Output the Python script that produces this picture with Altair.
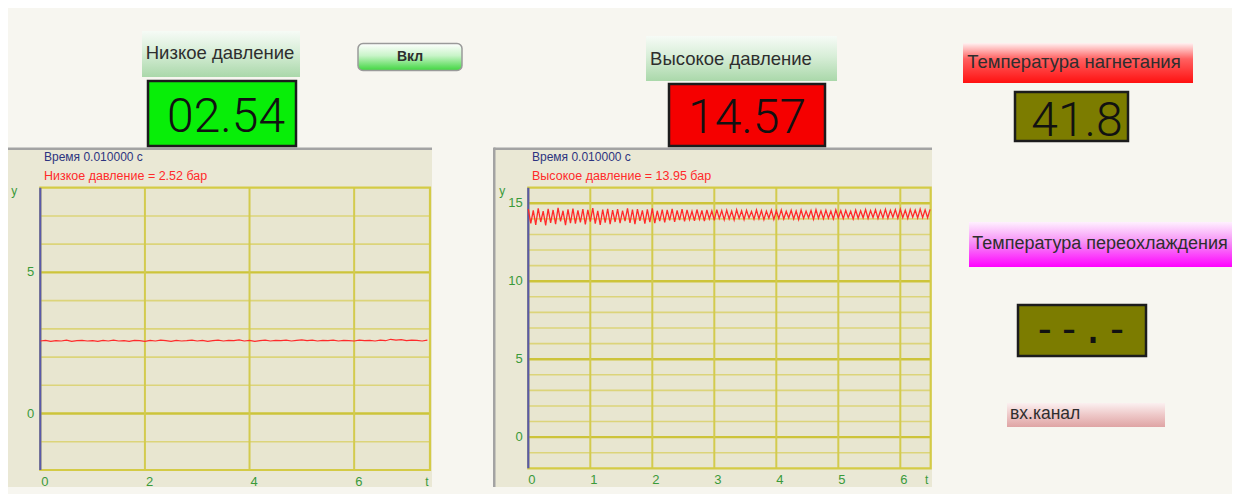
import altair as alt
import pandas as pd

# ---------------- data ----------------
TIME_TEXT = "Время 0.010000 с"
LP_NAME = "Низкое давление"
HP_NAME = "Высокое давление"
TD_NAME = "Температура нагнетания"
TS_NAME = "Температура переохлаждения"
CH_NAME = "вх.канал"
BUTTON_TEXT = "Вкл"
LP_READOUT = "Низкое давление = 2.52 бар"
HP_READOUT = "Высокое давление = 13.95 бар"
LCD_LP = "02.54"
LCD_HP = "14.57"
LCD_TD = "41.8"
LCD_TS = "--.-"
X_TITLE = "t"
Y_TITLE = "y"

LP_T_STEP = 0.1
LP_VALUES = [
    2.57, 2.59, 2.56, 2.58, 2.57, 2.60, 2.56, 2.58, 2.59, 2.57,
    2.58, 2.56, 2.59, 2.57, 2.60, 2.57, 2.58, 2.56, 2.59, 2.58,
    2.56, 2.59, 2.57, 2.60, 2.58, 2.56, 2.59, 2.57, 2.58, 2.60,
    2.57, 2.59, 2.56, 2.58, 2.60, 2.57, 2.59, 2.58, 2.61, 2.57,
    2.59, 2.56, 2.58, 2.60, 2.57, 2.59, 2.58, 2.60, 2.57, 2.59,
    2.61, 2.58, 2.60, 2.57, 2.59, 2.58, 2.60, 2.57, 2.59, 2.58,
    2.57, 2.60, 2.58, 2.59, 2.57, 2.60, 2.58, 2.63, 2.60, 2.62,
    2.58, 2.60, 2.59, 2.57, 2.60,
]

HP_T_STEP = 0.04
HP_VALUES = [
    14.62, 13.71, 14.55, 13.62, 14.68, 13.80, 14.50, 13.58, 14.64, 13.75,
    14.57, 13.66, 14.70, 13.84, 14.52, 13.60, 14.61, 13.73, 14.66, 13.69,
    14.54, 13.78, 14.63, 13.64, 14.58, 13.82, 14.69, 13.70, 14.51, 13.61,
    14.60, 13.76, 14.65, 13.67, 14.56, 13.80, 14.62, 13.72, 14.53, 13.85,
    14.67, 13.74, 14.59, 13.66, 14.63, 13.88, 14.55, 13.70, 14.61, 13.79,
    14.68, 13.73, 14.52, 13.86, 14.60, 13.77, 14.57, 13.90, 14.64, 13.81,
    14.55, 13.92, 14.62, 13.84, 14.58, 13.95, 14.49, 13.88, 14.60, 13.97,
    14.54, 13.86, 14.57, 13.99, 14.51, 13.91, 14.59, 14.02, 14.53, 13.94,
    14.56, 14.00, 14.50, 13.93, 14.58, 14.03, 14.52, 13.96, 14.55, 14.05,
    14.48, 13.98, 14.57, 14.01, 14.53, 13.95, 14.50, 14.04, 14.56, 13.97,
    14.52, 14.02, 14.58, 13.99, 14.49, 14.06, 14.55, 14.00, 14.51, 13.96,
    14.57, 14.03, 14.50, 14.07, 14.54, 13.98, 14.59, 14.04, 14.52, 14.01,
    14.56, 14.05, 14.50, 13.99, 14.58, 14.06, 14.53, 14.02, 14.55, 14.08,
    14.49, 14.00, 14.57, 14.04, 14.52, 14.07, 14.60, 14.03, 14.54, 14.09,
    14.58, 14.02, 14.53, 14.06, 14.61, 14.04, 14.55, 14.10, 14.59, 14.05,
    14.62, 14.08, 14.56, 14.03, 14.60, 14.11, 14.57, 14.06, 14.63, 14.09,
    14.58, 14.07, 14.61,
]

LP_X_DOMAIN = [0, 7.45]
LP_Y_DOMAIN = [-2, 8]
LP_X_TICKS = [0, 2, 4, 6]
LP_Y_TICKS = [0, 5]
LP_Y_GRID = [-1, 0, 1, 2, 3, 4, 5, 6, 7]
LP_Y_MAJOR = [0, 5]

HP_X_DOMAIN = [0, 6.49]
HP_Y_DOMAIN = [-2, 16]
HP_X_TICKS = [0, 1, 2, 3, 4, 5, 6]
HP_Y_TICKS = [0, 5, 10, 15]
HP_Y_GRID = [-1, 0, 1, 2, 3, 4, 5, 6, 7, 8, 9, 10, 11, 12, 13, 14, 15]
HP_Y_MAJOR = [0, 5, 10, 15]

# ---------------- style / layout ----------------
OX, OY = 8, 8
W, H = 1224, 486
PAGE_BG = "#f7f6f0"
PANEL_BG = "#eae8d5"
PLOT_BG = "#e8e6d0"
MINOR = "#dcd47a"
MAJOR = "#cdc43a"
VGRID = "#d3cb4e"
FRAME = "#d4cb46"
AXIS_BLUE = "#5a5aa8"
GREEN = "#3a9a3a"
RED = "#ff2a2a"
NAVY = "#2d3480"
TXT = "#2e2e2e"
FONT = "Liberation Sans"
LCD_FONT = "Roboto"

PX = alt.Scale(domain=[0, 1240], range=[-OX, 1240 - OX])
PY = alt.Scale(domain=[0, 502], range=[-OY, 502 - OY])


def grad(*stops):
    return alt.Gradient(
        gradient="linear", x1=0, x2=0, y1=0, y2=1,
        stops=[alt.GradientStop(color=c, offset=o) for o, c in stops],
    )


def box(x0, y0, x1, y1, fill, stroke=None, sw=0.0, radius=0):
    kw = dict(fill=fill, strokeWidth=sw, cornerRadius=radius)
    if stroke:
        kw["stroke"] = stroke
    df = pd.DataFrame({"x": [x0], "x2": [x1], "y": [y0], "y2": [y1]})
    return alt.Chart(df).mark_rect(**kw).encode(
        x=alt.X("x:Q", scale=PX, axis=None), x2="x2:Q",
        y=alt.Y("y:Q", scale=PY, axis=None), y2="y2:Q",
    )


def label(x, y, text, size, color, align="center", font=FONT,
          weight="normal", baseline="middle"):
    df = pd.DataFrame({"x": [x], "y": [y], "t": [text]})
    return alt.Chart(df).mark_text(
        align=align, baseline=baseline, fontSize=size, color=color,
        font=font, fontWeight=weight,
    ).encode(
        x=alt.X("x:Q", scale=PX, axis=None),
        y=alt.Y("y:Q", scale=PY, axis=None),
        text="t:N",
    )


def plot(values, step, xdom, ydom, xpix, ypix, xticks, yticks, ygrid, ymajor,
         line_w, ylab_dx, xlab_dx, ytitle_dx, ttitle_dx):
    xs = alt.Scale(domain=xdom, range=[xpix[0] - OX, xpix[1] - OX], nice=False, zero=False)
    ys = alt.Scale(domain=ydom, range=[ypix[0] - OY, ypix[1] - OY], nice=False, zero=False)

    def X(f):
        return alt.X(f, scale=xs, axis=None)

    def Y(f):
        return alt.Y(f, scale=ys, axis=None)

    frame = pd.DataFrame({"a": [xdom[0]], "b": [xdom[1]], "c": [ydom[0]], "d": [ydom[1]]})
    bg = alt.Chart(frame).mark_rect(fill=PLOT_BG).encode(
        x=X("a:Q"), x2="b:Q", y=Y("c:Q"), y2="d:Q")

    minor = pd.DataFrame({"g": [g for g in ygrid if g not in ymajor], "a": xdom[0], "b": xdom[1]})
    major = pd.DataFrame({"g": list(ymajor), "a": xdom[0], "b": xdom[1]})
    hmin = alt.Chart(minor).mark_rule(color=MINOR, strokeWidth=1.6).encode(
        x=X("a:Q"), x2="b:Q", y=Y("g:Q"))
    hmaj = alt.Chart(major).mark_rule(color=MAJOR, strokeWidth=2.4).encode(
        x=X("a:Q"), x2="b:Q", y=Y("g:Q"))
    vg = pd.DataFrame({"g": [t for t in xticks if t > xdom[0]], "c": ydom[0], "d": ydom[1]})
    vgrid = alt.Chart(vg).mark_rule(color=VGRID, strokeWidth=2).encode(
        x=X("g:Q"), y=Y("c:Q"), y2="d:Q")
    border = alt.Chart(frame).mark_rect(filled=False, stroke=FRAME, strokeWidth=2.2).encode(
        x=X("a:Q"), x2="b:Q", y=Y("c:Q"), y2="d:Q")
    left = alt.Chart(frame).mark_rule(color=AXIS_BLUE, strokeWidth=2.2).encode(
        x=X("a:Q"), y=Y("c:Q"), y2="d:Q")

    series = pd.DataFrame({"t": [i * step for i in range(len(values))], "v": values})
    line = alt.Chart(series).mark_line(color=RED, strokeWidth=line_w, clip=True).encode(
        x=X("t:Q"), y=Y("v:Q"))

    # tick labels and axis titles, placed through the plot's own scales
    xl = pd.DataFrame({"g": xticks, "c": ydom[0], "s": [str(t) for t in xticks]})
    xlab = alt.Chart(xl).mark_text(
        align="left", baseline="middle", dx=xlab_dx, dy=12, fontSize=13,
        font=FONT, color=GREEN).encode(x=X("g:Q"), y=Y("c:Q"), text="s:N")
    yl = pd.DataFrame({"g": yticks, "a": xdom[0], "s": [str(t) for t in yticks]})
    ylab = alt.Chart(yl).mark_text(
        align="right", baseline="middle", dx=ylab_dx, fontSize=13,
        font=FONT, color=GREEN).encode(x=X("a:Q"), y=Y("g:Q"), text="s:N")
    yt = pd.DataFrame({"a": [xdom[0]], "d": [ydom[1]], "s": [Y_TITLE]})
    ytit = alt.Chart(yt).mark_text(
        align="center", baseline="middle", dx=ytitle_dx, dy=3, fontSize=12,
        font=FONT, color=GREEN).encode(x=X("a:Q"), y=Y("d:Q"), text="s:N")
    xt = pd.DataFrame({"b": [xdom[1]], "c": [ydom[0]], "s": [X_TITLE]})
    xtit = alt.Chart(xt).mark_text(
        align="center", baseline="middle", dx=ttitle_dx, dy=12, fontSize=12,
        font=FONT, color=GREEN).encode(x=X("b:Q"), y=Y("c:Q"), text="s:N")
    return alt.layer(bg, hmin, hmaj, vgrid, border, left, line, xlab, ylab, ytit, xtit)


# ---------------- decorations ----------------
deco = alt.layer(
    # plot panels
    box(8, 149, 432, 487, PANEL_BG),
    box(8, 147.5, 432, 150, "#a3a3a3"),
    box(494, 149, 932, 487, PANEL_BG),
    box(494, 147.5, 932, 150, "#a3a3a3"),
    box(493, 147.5, 495.5, 487, "#a3a3a3"),
    label(44, 157, TIME_TEXT, 12, NAVY, align="left"),
    label(44, 176, LP_READOUT, 12.5, RED, align="left"),
    label(532, 157, TIME_TEXT, 12, NAVY, align="left"),
    label(532, 176, HP_READOUT, 12.5, RED, align="left"),
    # low pressure widgets
    box(142, 31, 300, 77, grad((0, "#f6fbf6"), (0.45, "#d8eed8"), (1, "#aad8aa"))),
    label(220, 53, LP_NAME, 18.5, TXT),
    box(148, 81, 296, 146, "#08ee08", stroke="#1c1c1c", sw=2.5),
    label(226, 132, LCD_LP, 48, "#111111", font=LCD_FONT, weight=300, baseline="alphabetic"),
    # button
    box(358, 43.5, 462, 70.5, grad((0, "#ffffff"), (0.45, "#c8f4c8"), (1, "#3fd63f")),
        stroke="#9a9a9a", sw=1.5, radius=5),
    label(410, 57, BUTTON_TEXT, 14, TXT, weight="bold"),
    # high pressure widgets
    box(646, 36, 837, 81, grad((0, "#f6fbf6"), (0.45, "#d8eed8"), (1, "#aad8aa"))),
    label(731, 59, HP_NAME, 18.5, TXT),
    box(669, 84, 825, 146, "#f50000", stroke="#1c1c1c", sw=2.5),
    label(747, 133, LCD_HP, 48, "#111111", font=LCD_FONT, weight=300, baseline="alphabetic"),
    # discharge temperature
    box(963, 43, 1193, 83, grad((0, "#fff2f2"), (0.4, "#ff6060"), (1, "#ff1010"))),
    label(1074, 62, TD_NAME, 18.5, TXT),
    box(1015, 92, 1128, 141, "#7c7c00", stroke="#1c1c1c", sw=2.5),
    label(1077, 136, LCD_TD, 48, "#111111", font=LCD_FONT, weight=300, baseline="alphabetic"),
    # subcooling temperature
    box(969, 222, 1240, 267, grad((0, "#fff0ff"), (0.45, "#f690f6"), (1, "#ff00ff"))),
    label(1100, 244, TS_NAME, 18, TXT),
    box(1018, 305, 1146, 356, "#7c7c00", stroke="#1c1c1c", sw=2.5),
    label(1081, 343, LCD_TS, 40, "#111111", font="DejaVu Sans Mono",
          baseline="alphabetic"),
    # input channel
    box(1007, 403, 1165, 427, grad((0, "#fbf0f0"), (0.5, "#eec8c8"), (1, "#dfa4a4"))),
    label(1010, 414, CH_NAME, 17.5, TXT, align="left"),
)

left_plot = plot(LP_VALUES, LP_T_STEP, LP_X_DOMAIN, LP_Y_DOMAIN, [40.3, 430], [470, 187.7],
                 LP_X_TICKS, LP_Y_TICKS, LP_Y_GRID, LP_Y_MAJOR, 1.2,
                 -6, 1, -26, -3)
right_plot = plot(HP_VALUES, HP_T_STEP, HP_X_DOMAIN, HP_Y_DOMAIN, [528.3, 930.7], [468.3, 187.7],
                  HP_X_TICKS, HP_Y_TICKS, HP_Y_GRID, HP_Y_MAJOR, 1.3,
                  -5.5, 0, -26, -4)

chart = alt.layer(deco, left_plot, right_plot).resolve_scale(
    x="independent", y="independent"
).properties(
    width=W, height=H, padding=0, background=PAGE_BG,
    autosize=alt.AutoSizeParams(type="none"),
).configure_view(strokeWidth=0)

chart.save("out.html", embed_options={"renderer": "svg", "actions": False})
